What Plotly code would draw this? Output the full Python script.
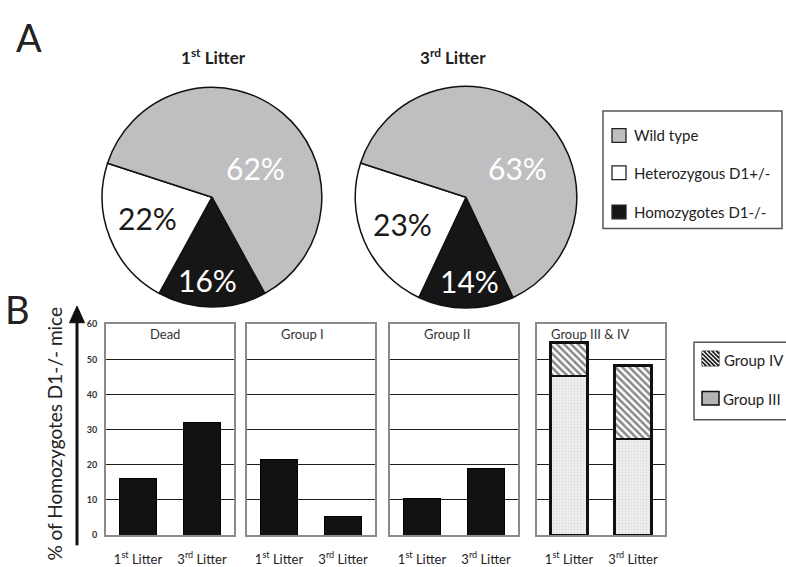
import plotly.graph_objects as go

W, H = 786, 567

# ---- data -------------------------------------------------------------
genotypes = ["Wild type", "Heterozygous D1+/-", "Homozygotes D1-/-"]
genotype_colors = ["#bfbfc1", "#ffffff", "#161616"]
genotype_text = ["#ffffff", "#1a1a1a", "#ffffff"]
litter1_pct = [62, 22, 16]
litter3_pct = [63, 23, 14]

litters = ["1st Litter", "3rd Litter"]
litter_ticks = ["1<sup>st</sup> Litter", "3<sup>rd</sup> Litter"]
panel_titles = ["Dead", "Group I", "Group II", "Group III & IV"]
dead = [16, 32]
group_1 = [21.4, 5.4]
group_2 = [10.5, 18.9]
group_3 = [45.3, 27.3]
group_4 = [9.5, 21.0]
y_ticks = [0, 10, 20, 30, 40, 50, 60]

FONT = "Lato"


def px(x):
    return x / W


def py(y):
    return 1 - y / H


def label(text, x, y, size, color="#222222", xanchor="center", **kw):
    fig.add_annotation(x=px(x), y=py(y), xref="paper", yref="paper",
                       text=text, showarrow=False,
                       xanchor=xanchor, yanchor="middle",
                       font=dict(family=FONT, size=size, color=color), **kw)


def box(x0, y0, x1, y1, fill, line_color="#222222", line_width=1.3):
    shapes.append(dict(type="rect", xref="paper", yref="paper",
                       x0=px(x0), x1=px(x1), y0=py(y1), y1=py(y0),
                       line=dict(color=line_color, width=line_width), fillcolor=fill))


def hatch(x0, y0, x1, y1, step, color, width):
    """Back-slash hatch lines (x - y = c) clipped to a pixel box."""
    c = (x0 - y1) + step / 2
    while c < x1 - y0:
        ya = max(y0, x0 - c)
        yb = min(y1, x1 - c)
        if yb > ya:
            shapes.append(dict(type="line", xref="paper", yref="paper",
                               x0=px(ya + c), y0=py(ya), x1=px(yb + c), y1=py(yb),
                               line=dict(color=color, width=width)))
        c += step


fig = go.Figure()
shapes = []

# ---- A: pie charts ----------------------------------------------------
pie_boxes = [(100, 324, 83, 307), (353, 579, 82, 308)]
pie_data = [litter1_pct, litter3_pct]
pie_label_pos = [
    [(255, 165), (147, 216), (208, 279)],
    [(517, 165), (403, 222), (470, 280)],
]
for (x0, x1, y0, y1), vals, pos in zip(pie_boxes, pie_data, pie_label_pos):
    order = [2, 1, 0]  # homozygotes first so that slice sits centred at the bottom
    fig.add_trace(go.Pie(
        labels=[genotypes[i] for i in order],
        values=[vals[i] for i in order],
        marker=dict(colors=[genotype_colors[i] for i in order],
                    line=dict(color="#111111", width=1.5)),
        sort=False,
        direction="clockwise",
        rotation=180 - vals[2] * 3.6 / 2,
        textinfo="none",
        hoverinfo="label+percent",
        showlegend=False,
        domain=dict(x=[px(x0), px(x1)], y=[py(y1), py(y0)]),
    ))
    for v, (lx, ly), c in zip(vals, pos, genotype_text):
        label(f"{v}%", lx, ly, 30, c)

for title, cx in zip(["1<sup>st</sup> Litter", "3<sup>rd</sup> Litter"], [213, 453]):
    label(f"<b>{title}</b>", cx, 51, 17)

# pie legend
box(603, 107, 782, 227, "rgba(0,0,0,0)", "#555555", 1.5)
for name, col, yc in zip(genotypes, genotype_colors, [132, 170, 210]):
    box(612, yc - 7, 626, yc + 7, col)
    label(name, 632, yc, 15, xanchor="left")

# ---- B: bar panels ----------------------------------------------------
panel_left = [106, 247, 390, 537]
panel_w = 128
title_x = [165, 302, 447, 590]
y_bot, y_top = 539.5, 324.5
bar_w = 0.58

single_series = [dead, group_1, group_2]
for k in range(4):
    ax = "" if k == 0 else str(k + 1)
    xa, ya = "x" + ax, "y" + ax
    if k < 3:
        fig.add_trace(go.Bar(
            x=litters, y=single_series[k], xaxis=xa, yaxis=ya, width=bar_w,
            marker=dict(color="#111111", line=dict(color="#000000", width=1)),
            showlegend=False,
        ))
    else:
        fig.add_trace(go.Bar(
            x=litters, y=group_3, xaxis=xa, yaxis=ya, width=bar_w,
            name="Group III", showlegend=False,
            marker=dict(color="#ececec",
                        line=dict(color="#111111", width=2.5),
                        pattern=dict(shape=".", fgcolor="#c4c4c4",
                                     bgcolor="#f0f0f0", size=3, solidity=0.35)),
        ))
        fig.add_trace(go.Bar(
            x=litters, y=group_4, xaxis=xa, yaxis=ya, width=bar_w,
            name="Group IV", showlegend=False,
            marker=dict(color="#ffffff",
                        line=dict(color="#111111", width=2.5),
                        pattern=dict(shape="\\", fgcolor="#111111",
                                     bgcolor="#ffffff", size=5, solidity=0.5)),
        ))

    x0 = panel_left[k]
    fig.layout["xaxis" + ax] = dict(
        domain=[px(x0), px(x0 + panel_w)], anchor=ya,
        range=[-0.5, 1.5], type="category",
        tickvals=litters, ticktext=litter_ticks,
        ticks="", ticklabelstandoff=11,
        tickfont=dict(family=FONT, size=13, color="#222222"),
        showline=True, linecolor="#8a8a8a", linewidth=2, mirror=True,
        showgrid=False, zeroline=False, fixedrange=True,
    )
    fig.layout["yaxis" + ax] = dict(
        domain=[py(y_bot), py(y_top)], anchor=xa,
        range=[0, 60], tickvals=y_ticks,
        showticklabels=(k == 0), ticks="", ticklabelstandoff=5,
        tickfont=dict(family=FONT, size=9, color="#333333", weight="bold"),
        showline=True, linecolor="#8a8a8a", linewidth=2, mirror=True,
        showgrid=True, gridcolor="#1e1e1e", gridwidth=1.3,
        zeroline=False, fixedrange=True,
    )
    label(panel_titles[k], title_x[k], 334, 13, "#333333")

# bar legend (box runs off the right edge)
box(694, 343, 800, 422, "white", "#555555", 1.5)
box(702, 352, 719, 367, "#1a1a1a", "#111111", 1)
hatch(702, 352, 719, 367, 4.2, "#ffffff", 1.3)
label("Group IV", 722, 361, 15, xanchor="left")
box(702, 393, 719, 407, "#b4b4b4", "#111111", 1.5)
label("Group III", 721, 401, 15, xanchor="left")

# y-axis title and arrow
label("% of Homozygotes D1-/- mice", 55, 436, 19, textangle=-90)
shapes.append(dict(type="line", xref="paper", yref="paper",
                   x0=px(77), x1=px(77), y0=py(550), y1=py(320),
                   line=dict(color="#111111", width=3)))
shapes.append(dict(type="path", xref="paper", yref="paper",
                   path=f"M {px(69.5)} {py(323)} L {px(84.5)} {py(323)} L {px(77)} {py(306)} Z",
                   fillcolor="#111111", line=dict(color="#111111", width=1)))

# panel letters
label("A", 29, 32, 38)
label("B", 17, 309, 38)

fig.update_layout(
    width=W, height=H,
    margin=dict(l=0, r=0, t=0, b=0),
    paper_bgcolor="white", plot_bgcolor="white",
    barmode="stack",
    shapes=shapes,
    showlegend=False,
    font=dict(family=FONT),
)

fig.write_html("out.html")
